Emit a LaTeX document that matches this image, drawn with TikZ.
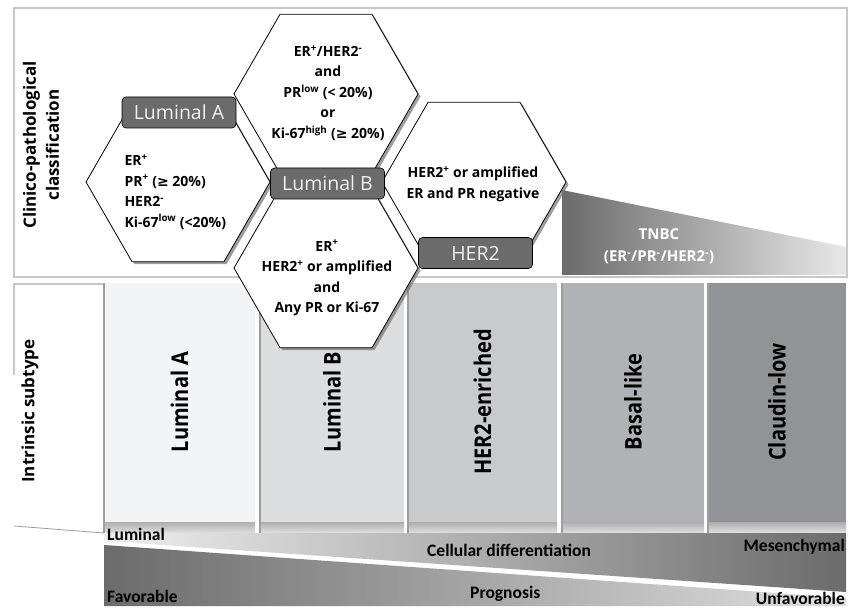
\documentclass[tikz,border=0pt]{standalone}
\usepackage{fontspec}
\setmainfont{Open Sans}
\newfontfamily\calibfont{Carlito}
\newfontfamily\symbfont{DejaVu Sans}
\usetikzlibrary{calc, positioning, shapes.geometric, shadows}
\newcommand{\sups}[1]{\textsuperscript{#1}}
\newcommand{\geqs}{{\symbfont ≥}}
\newcommand{\tallcol}[1]{\scalebox{1}[1.15]{#1}}
\definecolor{colA}{HTML}{F3F4F6}
\definecolor{colB}{HTML}{DCDDDF}
\definecolor{colC}{HTML}{C9CACC}
\definecolor{colD}{HTML}{B1B2B5}
\definecolor{colE}{HTML}{929396}
\tikzset
{%
hexa/.style={draw=black, fill=white, regular polygon, regular polygon sides=6, minimum size=184pt, inner sep=0pt, line width=0.8pt,
	drop shadow={shadow xshift=2.5pt, shadow yshift=-2.5pt, fill=black!55, opacity=0.7}},
hextext/.style={font=\bfseries\fontsize{14}{20.5}\selectfont, align=center},
tag/.style={draw=black, fill=black!58, rounded corners=4pt, minimum width=114pt, minimum height=31pt, inner sep=0pt,
	text=white!94!black, font=\fontsize{19.5}{20}\selectfont, line width=0.6pt},
subtype/.style={rotate=90, font=\bfseries\fontsize{20}{20}\selectfont},
sidetext/.style={rotate=90, font=\bfseries\fontsize{17}{23}\selectfont, align=center},
bandtext/.style={font=\calibfont\bfseries\fontsize{17.5}{18}\selectfont, inner sep=0pt},
frame/.style={draw=black!22, line width=1.2pt},
strip/.style={top color=black!32, bottom color=black!12},
edge shade/.style={draw=black!38, line width=1.2pt}
}

\begin{document}
\begin{tikzpicture}[x=1pt, y=-1pt]
	\useasboundingbox (0,0) rectangle (854,609);

		% [FRAMES]
		\draw[frame] (14,8) rectangle (847,277);
		\draw[frame] (14,375) -- (14,284) -- (104,284);
		\draw[draw=black!40, line width=0.8pt] (14,526) -- (104,533);

		\node[sidetext] (clin) at (41,145) {Clinico-pathological\\classification};
		\node[sidetext] (intr) at (30,411) {Intrinsic subtype};

		% [INTRINSIC SUBTYPES]

		% Column Luminal A
		\fill[colA] (104,283) rectangle (255,522);
		\shade[strip] (104,522) rectangle (255,533);
		\draw[edge shade] (104,283) -- (104,533);
		\node[subtype] (lumA) at (179.5,402) {\tallcol{Luminal A}};

		% Column Luminal B
		\fill[colB] (260,283) rectangle (404,522);
		\shade[strip] (260,522) rectangle (404,533);
		\draw[edge shade] (260,283) -- (260,533);
		\node[subtype] (lumB) at (332,402) {\tallcol{Luminal B}};

		% Column HER2-enriched
		\fill[colC] (408,283) rectangle (557,522);
		\shade[strip] (408,522) rectangle (557,533);
		\draw[edge shade] (408,283) -- (408,533);
		\node[subtype] (herE) at (482.5,402) {\tallcol{HER2-enriched}};

		% Column Basal-like
		\fill[colD] (562,283) rectangle (704,522);
		\shade[strip] (562,522) rectangle (704,533);
		\draw[edge shade] (562,283) -- (562,533);
		\node[subtype] (basal) at (633,402) {\tallcol{Basal-like}};

		% Column Claudin-low
		\fill[colE] (708,283) rectangle (846,522);
		\shade[strip] (708,522) rectangle (846,533);
		\draw[edge shade] (708,283) -- (708,533);
		\node[subtype] (claud) at (777,402) {\tallcol{Claudin-low}};

		% [BANDS]
		\shade[left color=black!6, middle color=black!20, right color=black!58]
			(104,533) -- (846,533) -- (846,592) -- (104,541) -- cycle;
		\shade[left color=black!58, middle color=black!22, right color=black!12]
			(104,545) -- (846,598) -- (846,606) -- (104,606) -- cycle;
		\node[bandtext, anchor=base west] (lumi) at (107,540) {Luminal};
		\node[bandtext, anchor=base west] (cell) at (427,556) {Cellular differentiation};
		\node[bandtext, anchor=base east] (mese) at (845,551) {Mesenchymal};
		\node[bandtext, anchor=base west] (favo) at (107,602) {Favorable};
		\node[bandtext, anchor=base west] (prog) at (470,598) {Prognosis};
		\node[bandtext, anchor=base east] (unfa) at (845,604) {Unfavorable};

		% [CLINICO-PATHOLOGICAL]

		% Wedge TNBC
		\shade[left color=black!58, right color=black!9]
			(562,190) -- (846,247) -- (846,275) -- (562,275) -- cycle;
		\node[font=\bfseries\fontsize{15}{22}\selectfont, text=white, align=center] (tnbc)
			at (659,246) {TNBC\\(ER\sups{-}/PR\sups{-}/HER2\sups{-})};

		% Hexagons
		\node[hexa] (hexA) at (178,182) {};
		\node[hexa] (hexB) at (326,94) {};
		\node[hexa] (hexC) at (326,268) {};
		\node[hexa] (hexD) at (474,182) {};

		\node[hextext, align=left, anchor=west] (txtA) at (121,192)
			{ER\sups{+}\\PR\sups{+} (\geqs{} 20\%)\\HER2\sups{-}\\Ki-67\sups{low} (<20\%)};
		\node[hextext] (txtB) at (328,93)
			{ER\sups{+}/HER2\sups{-}\\and\\PR\sups{low} (< 20\%)\\or\\Ki-67\sups{high} (\geqs{} 20\%)};
		\node[hextext] (txtC) at (327,278)
			{ER\sups{+}\\HER2\sups{+} or amplified\\and\\Any PR or Ki-67};
		\node[hextext] (txtD) at (473,184)
			{HER2\sups{+} or amplified\\ER and PR negative};

		% Tags
		\node[tag] (tagA) at (179,112.5) {Luminal A};
		\node[tag] (tagB) at (327.5,183.5) {Luminal B};
		\node[tag] (tagD) at (475.5,253) {HER2};
\end{tikzpicture}
\end{document}
